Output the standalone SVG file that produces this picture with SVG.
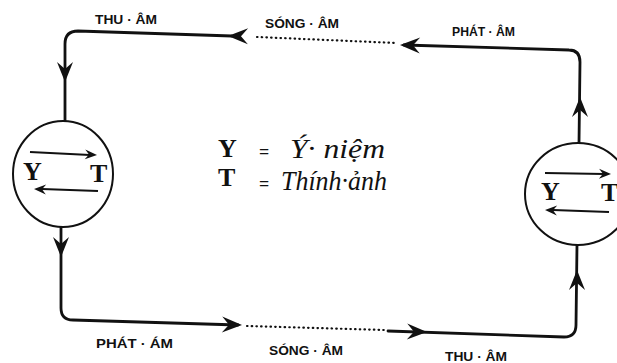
<svg xmlns="http://www.w3.org/2000/svg" xmlns:xlink="http://www.w3.org/1999/xlink" width="617" height="363" viewBox="0 0 617 363">
<style>
.bg{fill:#fff}
.ln{fill:none;stroke:#111;stroke-width:2.8;stroke-linecap:round;stroke-linejoin:round}
.dot{fill:none;stroke:#111;stroke-width:2.2;stroke-linecap:round;stroke-dasharray:0.5 4.2}
.circ{fill:#fff;stroke:#111;stroke-width:2}
.inner{fill:none;stroke:#111;stroke-width:2}
.lbl{font-family:"Liberation Sans",Arial,sans-serif;font-size:12.5px;font-weight:bold;fill:#111}
.yt{font-family:"Liberation Serif","Times New Roman",serif;font-size:26px;font-weight:bold;fill:#111}
.eq{font-family:"Liberation Serif","Times New Roman",serif;font-size:18px;font-weight:bold;fill:#111}
.scr{font-family:"Liberation Serif","Times New Roman",serif;font-size:27px;font-style:italic;fill:#111}
.ah{fill:#111}
</style>
<defs>
<path id="big" d="M0,0 L-20,-8 L-13,0 L-20,8 Z"/>
<path id="sm" d="M0,0 L-12,-5 L-8,0 L-12,5 Z"/>
</defs>
<rect class="bg" x="0" y="0" width="617" height="363"/>

<g id="connectors">
  <path class="ln" d="M232,36 L78,31 Q65,31 65,44 L65,121"/>
  <use href="#big" class="ah" transform="translate(228,36) rotate(181)"/>
  <use href="#big" class="ah" transform="translate(65,82) rotate(90)"/>
  <path class="dot" d="M257,37 L396,43"/>
  <path class="ln" d="M404,45 L569,50 Q580,50 580,62 L579,143"/>
  <use href="#big" class="ah" transform="translate(400,45) rotate(181.5)"/>
  <use href="#big" class="ah" transform="translate(580,97) rotate(-90)"/>
  <path class="ln" d="M61,227 L61,308 Q61,320 73,320 L238,325"/>
  <use href="#big" class="ah" transform="translate(242,325) rotate(1.5)"/>
  <use href="#big" class="ah" transform="translate(61,257) rotate(90)"/>
  <path class="dot" d="M247,326 L384,330"/>
  <path class="ln" d="M388,331 L564,337 Q576,337 576,325 L577,245"/>
  <use href="#big" class="ah" transform="translate(427,332) rotate(1.5)"/>
  <use href="#big" class="ah" transform="translate(577,270) rotate(-90)"/>
</g>

<g id="node-left">
  <ellipse class="circ" cx="63" cy="174" rx="50" ry="53"/>
  <line class="inner" x1="30" y1="152" x2="90" y2="155"/>
  <use href="#sm" class="ah" transform="translate(97,155) rotate(3)"/>
  <line class="inner" x1="98" y1="191" x2="42" y2="189"/>
  <use href="#sm" class="ah" transform="translate(34,189) rotate(182)"/>
  <text class="yt" x="23" y="180" font-size="22">Y</text>
  <text class="yt" x="90" y="182" font-size="22">T</text>
</g>

<g id="node-right">
  <ellipse class="circ" cx="578" cy="194" rx="53" ry="51"/>
  <line class="inner" x1="545" y1="173" x2="604" y2="174"/>
  <use href="#sm" class="ah" transform="translate(611,174) rotate(1)"/>
  <line class="inner" x1="609" y1="212" x2="553" y2="210"/>
  <use href="#sm" class="ah" transform="translate(545,210) rotate(182)"/>
  <text class="yt" x="541" y="200" font-size="22">Y</text>
  <text class="yt" x="601" y="201" font-size="22">T</text>
</g>

<g id="labels">
  <text class="lbl" x="95" y="24" textLength="62" lengthAdjust="spacingAndGlyphs">THU · ÂM</text>
  <text class="lbl" x="265" y="28" textLength="74" lengthAdjust="spacingAndGlyphs">SÓNG · ÂM</text>
  <text class="lbl" x="452" y="36" textLength="63" lengthAdjust="spacingAndGlyphs">PHÁT · ÂM</text>
  <text class="lbl" x="96" y="348" textLength="77" lengthAdjust="spacingAndGlyphs">PHÁT · ÁM</text>
  <text class="lbl" x="269" y="355" textLength="74" lengthAdjust="spacingAndGlyphs">SÓNG · ÂM</text>
  <text class="lbl" x="445" y="361" textLength="62" lengthAdjust="spacingAndGlyphs">THU · ÂM</text>
</g>

<g id="legend">
  <text class="yt" x="218" y="157">Y</text>
  <text class="eq" x="259" y="158">=</text>
  <text class="scr" x="290" y="158" textLength="95" lengthAdjust="spacingAndGlyphs">Ý· niệm</text>
  <text class="yt" x="218" y="186">T</text>
  <text class="eq" x="259" y="190">=</text>
  <text class="scr" x="281" y="190" textLength="106" lengthAdjust="spacingAndGlyphs">Thính·ảnh</text>
</g>
</svg>
